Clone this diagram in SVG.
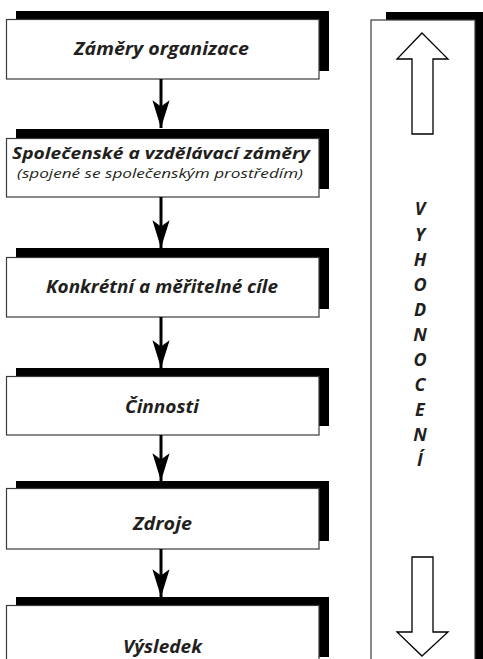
<svg xmlns="http://www.w3.org/2000/svg" width="483" height="659" viewBox="0 0 483 659">
<defs>
<style>
.sh{fill:#000}
.bx{fill:#fff;stroke:#3a3a3a;stroke-width:1.2}
.t{font-family:"Open Sans","Liberation Sans",sans-serif;font-style:italic;font-weight:bold;font-size:17.5px;fill:#231f20;text-anchor:middle}
.t2{font-size:15.5px}
.s{font-family:"Open Sans","Liberation Sans",sans-serif;font-style:italic;font-size:12.5px;fill:#231f20;text-anchor:middle}
.v{font-family:"Open Sans","Liberation Sans",sans-serif;font-style:italic;font-weight:bold;font-size:18px;fill:#231f20;text-anchor:middle}
.c{stroke:#000;stroke-width:3;fill:none}
.ha{fill:#fff;stroke:#000;stroke-width:1.3}
</style>
<marker id="ah" markerUnits="userSpaceOnUse" markerWidth="30" markerHeight="20" viewBox="-27 -9 28 18" refX="0" refY="0" orient="auto">
<path d="M0,0 L-26,-8 L-20,0 L-26,8 Z" fill="#000"/>
</marker>
</defs>
<g id="node-zamery">
<rect class="sh" x="16" y="11" width="313" height="60"/>
<rect class="bx" x="6.5" y="19.5" width="312.5" height="59.5"/>
<text class="t" x="161.5" y="55" textLength="175" lengthAdjust="spacingAndGlyphs">Záměry organizace</text>
</g>
<g id="node-spolecenske">
<rect class="sh" x="16" y="129" width="313" height="60"/>
<rect class="bx" x="6.5" y="138.5" width="312.5" height="58.5"/>
<text class="t t2" x="161" y="159" textLength="298" lengthAdjust="spacingAndGlyphs">Společenské a vzdělávací záměry</text>
<text class="s" x="160" y="178" textLength="286" lengthAdjust="spacingAndGlyphs">(spojené se společenským prostředím)</text>
</g>
<g id="node-cile">
<rect class="sh" x="16" y="248" width="313" height="61"/>
<rect class="bx" x="6.5" y="257.5" width="312.5" height="59.5"/>
<text class="t" x="162" y="293" textLength="232" lengthAdjust="spacingAndGlyphs">Konkrétní a měřitelné cíle</text>
</g>
<g id="node-cinnosti">
<rect class="sh" x="16" y="368" width="313" height="58"/>
<rect class="bx" x="6.5" y="376.5" width="312.5" height="58.5"/>
<text class="t" x="162" y="413" textLength="74" lengthAdjust="spacingAndGlyphs">Činnosti</text>
</g>
<g id="node-zdroje">
<rect class="sh" x="16" y="481" width="313" height="60"/>
<rect class="bx" x="6.5" y="488.5" width="312.5" height="60.5"/>
<text class="t" x="162.5" y="530" textLength="59" lengthAdjust="spacingAndGlyphs">Zdroje</text>
</g>
<g id="node-vysledek">
<rect class="sh" x="16" y="597" width="313" height="60"/>
<rect class="bx" x="6.5" y="605.5" width="312.5" height="70"/>
<text class="t" x="162.5" y="653" textLength="79" lengthAdjust="spacingAndGlyphs">Výsledek</text>
</g>
<g id="node-vyhodnoceni">
<rect class="sh" x="386" y="12" width="100" height="660"/>
<rect class="bx" x="371" y="20" width="104" height="660"/>
<path class="ha" d="M422,33 L448,59 L433,59 L433,134 L412,134 L412,59 L397,59 Z"/>
<path class="ha" d="M422,656 L448,632 L433,632 L433,557 L412,557 L412,632 L397,632 Z"/>
<text class="v" x="420" y="215">V</text>
<text class="v" x="420" y="240.5">Y</text>
<text class="v" x="420" y="265.5">H</text>
<text class="v" x="420" y="290.5">O</text>
<text class="v" x="420" y="315.5">D</text>
<text class="v" x="420" y="340.5">N</text>
<text class="v" x="420" y="365.5">O</text>
<text class="v" x="420" y="390.5">C</text>
<text class="v" x="420" y="415.5">E</text>
<text class="v" x="420" y="440.5">N</text>
<text class="v" x="420" y="466">Í</text>
</g>
<g id="connectors">
<line class="c" x1="161" y1="79" x2="161" y2="128" marker-end="url(#ah)"/>
<line class="c" x1="161" y1="197" x2="161" y2="248" marker-end="url(#ah)"/>
<line class="c" x1="161" y1="317" x2="161" y2="368" marker-end="url(#ah)"/>
<line class="c" x1="161" y1="435" x2="161" y2="481" marker-end="url(#ah)"/>
<line class="c" x1="161" y1="549" x2="161" y2="597" marker-end="url(#ah)"/>
</g>
</svg>
